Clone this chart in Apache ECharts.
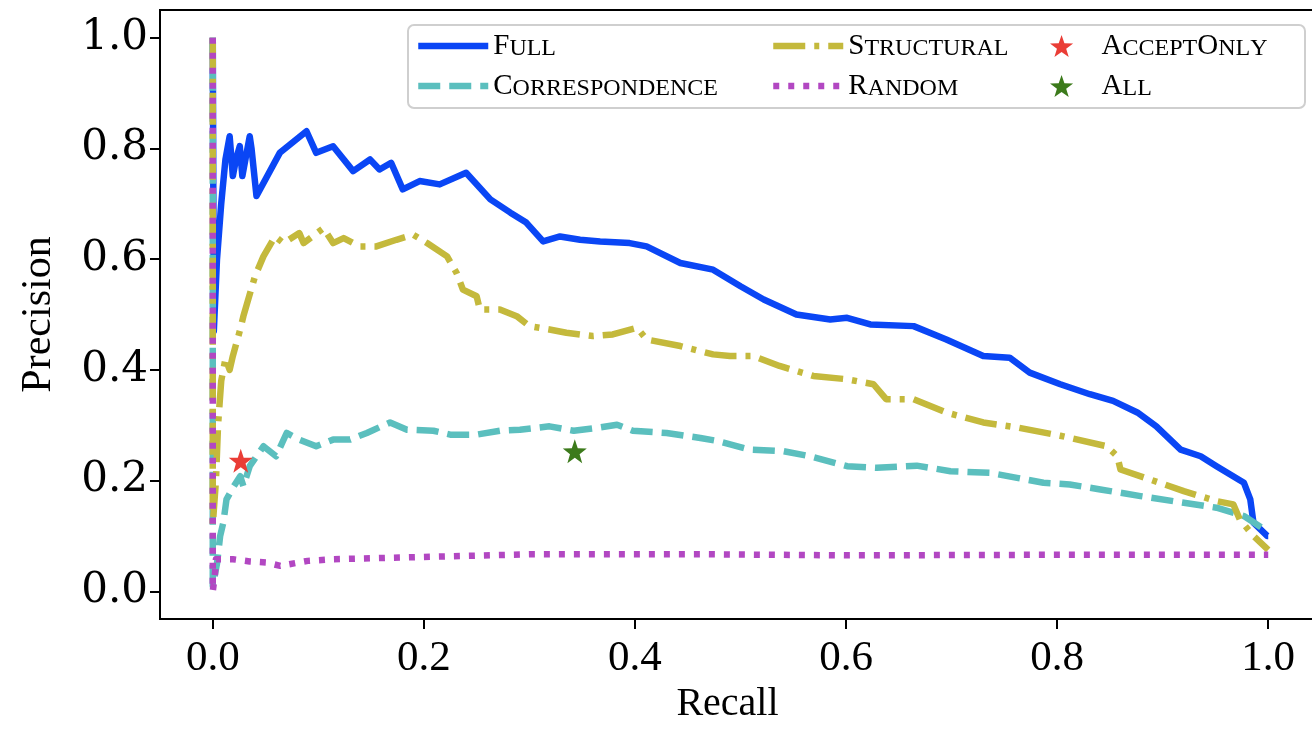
<!DOCTYPE html>
<html>
<head>
<meta charset="utf-8">
<script src="https://cdn.jsdelivr.net/npm/echarts@6/dist/echarts.min.js"></script>
<style>
html,body{margin:0;padding:0;background:#fff;overflow:hidden;}
#chart{width:1330px;height:743px;}
</style>
</head>
<body>
<div id="chart"></div>
<script>
// ---- data ----
const xTicks = [0.0, 0.2, 0.4, 0.6, 0.8, 1.0];
const yTicks = [0.0, 0.2, 0.4, 0.6, 0.8, 1.0];

const fullRecall = [0,0.001,0.004,0.008,0.012,0.016,0.019,0.022,0.0256,0.028,0.035,0.0367,0.0414,0.0635,0.0888,0.098,0.114,0.133,0.149,0.158,0.169,0.180,0.196,0.215,0.240,0.263,0.282,0.297,0.313,0.329,0.348,0.367,0.395,0.411,0.443,0.474,0.500,0.522,0.553,0.585,0.601,0.623,0.664,0.695,0.730,0.755,0.774,0.803,0.831,0.853,0.876,0.894,0.917,0.936,0.951,0.977,0.983,0.986,0.999,1.0];
const fullPrecision = [1.0,0.47,0.60,0.70,0.78,0.822,0.75,0.78,0.804,0.75,0.822,0.80,0.714,0.792,0.831,0.792,0.804,0.759,0.78,0.762,0.774,0.726,0.741,0.735,0.756,0.708,0.684,0.666,0.632,0.641,0.635,0.632,0.629,0.623,0.593,0.581,0.551,0.527,0.500,0.491,0.494,0.482,0.479,0.455,0.425,0.422,0.395,0.374,0.356,0.344,0.323,0.298,0.256,0.244,0.226,0.196,0.166,0.124,0.100,0.10];

const corrRecall = [0,0,0.004,0.007,0.010,0.013,0.020,0.026,0.029,0.035,0.048,0.060,0.070,0.082,0.098,0.114,0.130,0.146,0.168,0.184,0.209,0.225,0.250,0.272,0.291,0.319,0.342,0.367,0.383,0.398,0.430,0.462,0.477,0.509,0.541,0.566,0.601,0.629,0.667,0.699,0.736,0.762,0.787,0.812,0.841,0.879,0.920,0.951,0.977,0.996,1.0];
const corrPrecision = [1.0,0.01,0.05,0.10,0.124,0.166,0.19,0.208,0.190,0.226,0.262,0.244,0.286,0.274,0.262,0.274,0.274,0.286,0.305,0.292,0.290,0.283,0.283,0.290,0.292,0.298,0.290,0.296,0.301,0.290,0.286,0.277,0.272,0.256,0.253,0.244,0.226,0.223,0.227,0.217,0.214,0.205,0.196,0.193,0.184,0.172,0.160,0.151,0.136,0.112,0.106];

const structRecall = [0,0,0.003,0.005,0.008,0.012,0.016,0.019,0.026,0.029,0.040,0.048,0.059,0.067,0.082,0.086,0.105,0.114,0.124,0.139,0.155,0.174,0.190,0.203,0.222,0.231,0.237,0.250,0.253,0.272,0.288,0.300,0.319,0.335,0.360,0.379,0.402,0.411,0.443,0.474,0.490,0.512,0.537,0.569,0.601,0.626,0.638,0.664,0.695,0.730,0.762,0.803,0.847,0.857,0.860,0.888,0.920,0.951,0.967,0.973,0.986,1.0];
const structPrecision = [1.0,0.12,0.20,0.30,0.38,0.42,0.40,0.425,0.473,0.497,0.569,0.605,0.641,0.629,0.647,0.629,0.656,0.629,0.638,0.623,0.623,0.635,0.644,0.629,0.605,0.575,0.545,0.533,0.509,0.509,0.497,0.479,0.473,0.467,0.461,0.464,0.476,0.455,0.443,0.428,0.425,0.425,0.407,0.389,0.383,0.374,0.347,0.347,0.323,0.305,0.296,0.281,0.262,0.244,0.220,0.202,0.181,0.163,0.157,0.130,0.100,0.075];

const randomRecall = [0,0,0.002,0.003,0.019,0.035,0.051,0.064,0.090,0.114,0.177,0.240,0.304,0.367,0.462,0.600,0.800,1.0];
const randomPrecision = [1.0,0.0,0.03,0.058,0.058,0.054,0.052,0.046,0.055,0.058,0.061,0.064,0.067,0.067,0.067,0.065,0.066,0.066];

const acceptOnlyPoint = [0.0265, 0.236];
const allPoint = [0.343, 0.253];

// ---- helpers ----
function pairs(xs, ys) { return xs.map((x, i) => [x, ys[i]]); }
function smallCaps(name) {
  let out = '';
  for (const ch of name) {
    if (ch >= 'A' && ch <= 'Z') out += '{b|' + ch + '}';
    else out += '{s|' + ch.toUpperCase() + '}';
  }
  return out;
}
const STAR = 'path://M0,-10 L2.35,-3.24 L9.51,-3.09 L3.80,1.24 L5.88,8.09 L0,4 L-5.88,8.09 L-3.80,1.24 L-9.51,-3.09 L-2.35,-3.24 Z';

const colors = {
  Full: '#0a46f5',
  Correspondence: '#5bbfbe',
  Structural: '#c4b93c',
  Random: '#b247c2',
  AcceptOnly: '#ea3d36',
  All: '#3c7a1b'
};
const lineW = 6.5;

const legendText = {
  color: '#000',
  fontFamily: 'Liberation Serif',
  lineHeight: 30,
  rich: {
    b: { fontSize: 29, fontFamily: 'Liberation Serif', color: '#000', verticalAlign: 'bottom' },
    s: { fontSize: 24, fontFamily: 'Liberation Serif', color: '#000', verticalAlign: 'bottom' }
  }
};
function mkLegend(left, data, itemH, hideSymbol) {
  const lg = {
    orient: 'vertical', left: left, top: 31, padding: 0,
    itemWidth: 70, itemHeight: itemH, itemGap: 10,
    data: data, formatter: smallCaps, textStyle: legendText,
    selectedMode: false
  };
  if (hideSymbol) {
    lg.itemStyle = { opacity: 0, color: 'rgba(0,0,0,0)', borderWidth: 0 };
    lg.lineStyle = { width: lineW };
  } else {
    lg.itemStyle = { opacity: 1 };
  }
  return lg;
}

const chart = echarts.init(document.getElementById('chart'), null, { renderer: 'canvas' });
chart.setOption({
  animation: false,
  backgroundColor: '#fff',
  grid: { left: 160, top: 10, width: 1161, height: 609, show: true, borderColor: '#000', borderWidth: 2, backgroundColor: 'transparent', containLabel: false },
  xAxis: {
    type: 'value', min: -0.05, max: 1.05,
    name: 'Recall', nameLocation: 'middle', nameGap: 52,
    nameTextStyle: { fontFamily: 'Liberation Serif', fontSize: 40, color: '#000', padding: [0, 26, 0, 0] },
    axisLine: { show: true, onZero: false, lineStyle: { color: '#000', width: 2 } },
    axisTick: { show: true, inside: false, customValues: xTicks, length: 10, lineStyle: { color: '#000', width: 2 } },
    axisLabel: { customValues: xTicks, formatter: v => v.toFixed(1), margin: 18, fontFamily: 'Liberation Serif', fontSize: 43, color: '#000' },
    splitLine: { show: false }
  },
  yAxis: {
    type: 'value', min: -0.05, max: 1.05,
    name: 'Precision', nameLocation: 'middle', nameGap: 100,
    nameTextStyle: { fontFamily: 'Liberation Serif', fontSize: 42, color: '#000' },
    axisLine: { show: true, onZero: false, lineStyle: { color: '#000', width: 2 } },
    axisTick: { show: true, inside: false, customValues: yTicks, length: 10, lineStyle: { color: '#000', width: 2 } },
    axisLabel: { customValues: yTicks, formatter: v => v.toFixed(1), margin: 12, fontFamily: 'DejaVu Serif', fontSize: 42, color: '#000' },
    splitLine: { show: false }
  },
  legend: [
    mkLegend(415, ['Full', 'Correspondence'], 14, true),
    mkLegend(770, ['Structural', 'Random'], 14, true),
    mkLegend(1050, ['AcceptOnly', 'All'], 22, false)
  ],
  graphic: [{
    type: 'rect', z: 3, silent: true,
    shape: { x: 408, y: 25, width: 897, height: 83, r: 6 },
    style: { fill: 'rgba(255,255,255,0.85)', stroke: '#cfcfcf', lineWidth: 2 }
  }],
  series: [
    { name: 'Full', type: 'line', data: pairs(fullRecall, fullPrecision), showSymbol: false, symbol: 'none',
      color: colors.Full, lineStyle: { color: colors.Full, width: lineW, type: 'solid', join: 'round' } },
    { name: 'Correspondence', type: 'line', data: pairs(corrRecall, corrPrecision), showSymbol: false, symbol: 'none',
      color: colors.Correspondence, lineStyle: { color: colors.Correspondence, width: lineW, type: [22, 9], join: 'round' } },
    { name: 'Structural', type: 'line', data: pairs(structRecall, structPrecision), showSymbol: false, symbol: 'none',
      color: colors.Structural, lineStyle: { color: colors.Structural, width: lineW, type: [32, 9, 5, 9], join: 'round' } },
    { name: 'Random', type: 'line', data: pairs(randomRecall, randomPrecision), showSymbol: false, symbol: 'none',
      color: colors.Random, lineStyle: { color: colors.Random, width: lineW, type: [6, 9], join: 'round' } },
    { name: 'AcceptOnly', type: 'scatter', data: [acceptOnlyPoint], symbol: STAR, symbolSize: 24, z: 5,
      itemStyle: { color: colors.AcceptOnly, opacity: 1 } },
    { name: 'All', type: 'scatter', data: [allPoint], symbol: STAR, symbolSize: 24, z: 5,
      itemStyle: { color: colors.All, opacity: 1 } }
  ]
});
</script>
</body>
</html>
